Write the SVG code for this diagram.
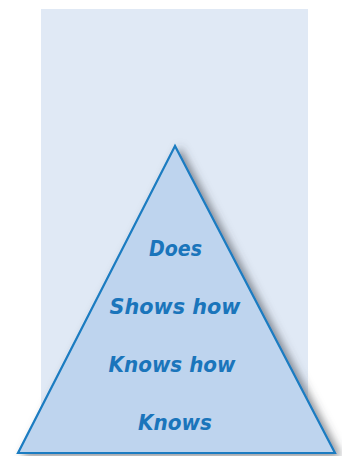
<svg xmlns="http://www.w3.org/2000/svg" width="342" height="456" viewBox="0 0 342 456">
<defs>
<filter id="sh" x="-20%" y="-20%" width="140%" height="140%">
<feDropShadow dx="5" dy="3" stdDeviation="4" flood-color="#40454d" flood-opacity="0.6"/>
</filter>
<style>
.lbl{font-family:"DejaVu Sans","Open Sans",sans-serif;font-weight:bold;font-style:italic;font-size:20.5px;fill:#1a75bb;text-anchor:middle}
</style>
</defs>
<rect id="background" x="41" y="9" width="267" height="444" fill="#e0e9f5"/>
<g id="pyramid">
<polygon points="175,146 18,453 335,453" fill="#bed4ee" stroke="#1a7cc1" stroke-width="2.2" stroke-linejoin="miter" filter="url(#sh)"/>
</g>
<g id="connectors"/>
<g id="level-does"><text class="lbl" x="175.5" y="256" textLength="53" lengthAdjust="spacingAndGlyphs">Does</text></g>
<g id="level-shows-how"><text class="lbl" x="175" y="314" textLength="131" lengthAdjust="spacingAndGlyphs">Shows how</text></g>
<g id="level-knows-how"><text class="lbl" x="172" y="372" textLength="127" lengthAdjust="spacingAndGlyphs">Knows how</text></g>
<g id="level-knows"><text class="lbl" x="175" y="430" textLength="74" lengthAdjust="spacingAndGlyphs">Knows</text></g>
</svg>
